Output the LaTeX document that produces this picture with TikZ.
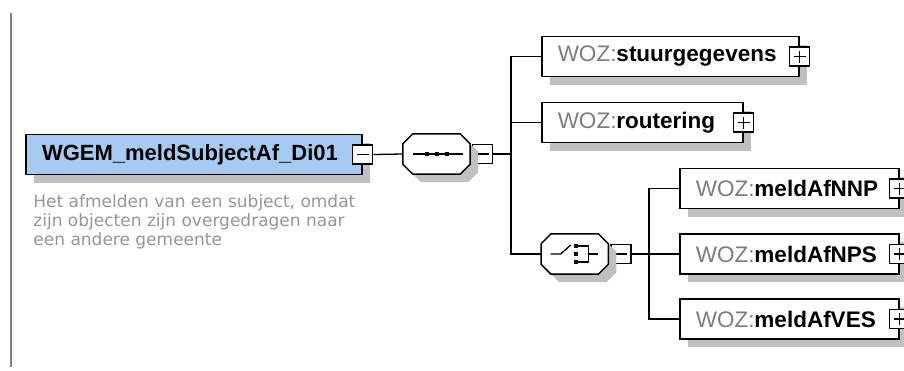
\documentclass[tikz,border=0pt]{standalone}
\usepackage{fontspec}
\setmainfont{Liberation Sans}
\newfontfamily\docfont{DejaVu Sans}
\usetikzlibrary{positioning,shadows}
\definecolor{elemblue}{RGB}{166,202,240}
\definecolor{shadowgray}{RGB}{192,192,192}
\definecolor{nsgray}{RGB}{125,125,125}
\definecolor{docgray}{RGB}{150,150,150}
\definecolor{rulegray}{RGB}{128,128,128}
\newcommand{\woz}[1]{\textcolor{nsgray}{WOZ:}\textbf{#1}}

\begin{document}
\begin{tikzpicture}[
  x=1pt, y=-1pt,
  dropped/.style={drop shadow={shadow xshift=8pt, shadow yshift=-8pt, fill=shadowgray, opacity=1}},
  elem/.style={draw, line width=1.5pt, fill=white, dropped, minimum height=40pt, inner xsep=16pt, inner ysep=0pt, text width=#1, align=left, font=\fontsize{22.5}{26}\selectfont},
  compositor/.style={minimum width=67pt, minimum height=40pt, inner sep=0pt},
  octagon/.style={insert path={([xshift=10pt]#1.north west) -- ([xshift=-10pt]#1.north east) -- ([yshift=-10pt]#1.north east) -- ([yshift=10pt]#1.south east) -- ([xshift=-10pt]#1.south east) -- ([xshift=10pt]#1.south west) -- ([yshift=10pt]#1.south west) -- ([yshift=-10pt]#1.north west) -- cycle}},
  expander/.style={draw, line width=1.2pt, fill=white, minimum width=20pt, minimum height=19pt, inner sep=0pt},
  minus/.style={expander, path picture={\draw[line width=1.2pt] ([xshift=-6pt]path picture bounding box.center) -- ([xshift=6pt]path picture bounding box.center);}},
  plus/.style={expander, path picture={\draw[line width=1.2pt] ([xshift=-6pt]path picture bounding box.center) -- ([xshift=6pt]path picture bounding box.center) ([yshift=-6pt]path picture bounding box.center) -- ([yshift=6pt]path picture bounding box.center);}},
  wire/.style={line width=1.3pt},
]
  \useasboundingbox (0,0) rectangle (904,370);
  \clip (0,0) rectangle (904,370);

  \draw[rulegray, line width=2pt] (11,13) -- (11,367);

  \node[elem=304pt, fill=elemblue, font=\fontsize{22}{26}\selectfont\bfseries] (root) at (194,154.5) {WGEM\_meldSubjectAf\_Di01};
  \node[minus] (rootx) at (root.east) {};
  \node[below right=19pt and 8pt of root.south west, align=left, inner sep=0pt, text=docgray, font=\docfont\fontsize{17}{19}\selectfont] (doc) {Het afmelden van een subject, omdat\\zijn objecten zijn overgedragen naar\\een andere gemeente};

  \node[compositor] (seq) at (436.5,154) {};
  \node[minus, right=2pt of seq] (seqx) {};
  \coordinate (fork1) at (511,154);

  \node[elem=225pt, anchor=west] (stuur) at (541,56.5) {\woz{stuurgegevens}};
  \node[plus] (stuurx) at (stuur.east) {};
  \node[elem=169pt, anchor=west] (rout) at (541,122.5) {\woz{routering}};
  \node[plus] (routx) at (rout.east) {};

  \node[compositor, anchor=west] (choice) at (541,254) {};
  \node[minus, right=2pt of choice] (choicex) {};
  \coordinate (fork2) at (649,254);

  \node[elem=187pt, anchor=west] (nnp) at (679,188.5) {\woz{meldAfNNP}};
  \node[plus] (nnpx) at (nnp.east) {};
  \node[elem=187pt, anchor=west] (nps) at (679,254) {\woz{meldAfNPS}};
  \node[plus] (npsx) at (nps.east) {};
  \node[elem=187pt, anchor=west] (ves) at (679,319) {\woz{meldAfVES}};
  \node[plus] (vesx) at (ves.east) {};

  \foreach \c in {seq,choice} {
    \fill[shadowgray, transform canvas={shift={(8pt,-8pt)}}, octagon=\c];
    \draw[line width=1.5pt, fill=white, octagon=\c];
  }

  \begin{scope}[shift={(seq.center)}, wire]
    \draw (-24,0) -- (26,0);
    \foreach \i in {-10,0,10}
      \fill (\i-2,-2) rectangle (\i+2,2);
  \end{scope}
  \begin{scope}[shift={(choice.center)}, wire]
    \draw (-24,0) -- (-14,0) -- (-4,-9);
    \foreach \j in {-8,0,8}
      \fill (-0.5,\j-2) rectangle (3.5,\j+2);
    \draw (3.5,-8) -- (13.5,-8) -- (13.5,8) -- (3.5,8);
    \draw (13.5,0) -- (23.5,0);
  \end{scope}

  \draw[wire] (rootx.east) -- (seq.west);
  \draw[wire] (seqx.east) -- (fork1);
  \draw[wire] (fork1) |- (stuur.west);
  \draw[wire] (fork1) |- (rout.west);
  \draw[wire] (fork1) |- (choice.west);
  \draw[wire] (choicex.east) -- (fork2);
  \draw[wire] (fork2) |- (nnp.west);
  \draw[wire] (fork2) -- (nps.west);
  \draw[wire] (fork2) |- (ves.west);
\end{tikzpicture}
\end{document}
